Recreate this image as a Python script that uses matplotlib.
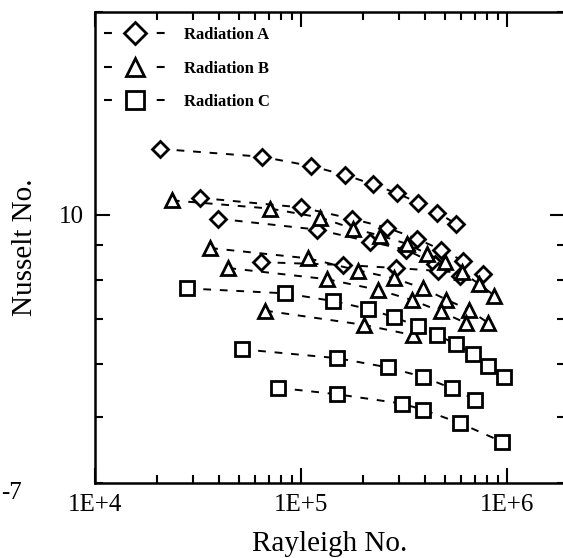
import matplotlib
matplotlib.use("Agg")
import matplotlib.pyplot as plt
from matplotlib.lines import Line2D
from matplotlib.ticker import FixedLocator, NullFormatter, LogLocator

plt.rcParams['font.family'] = ['Liberation Serif', 'DejaVu Serif']

# Radiation A (diamonds)
a1_ra = [2.07e4, 6.45e4, 1.115e5, 1.64e5, 2.24e5, 2.93e5, 3.71e5, 4.59e5, 5.65e5]
a1_nu = [12.52, 12.19, 11.81, 11.45, 11.09, 10.75, 10.42, 10.07, 9.69]
a2_ra = [3.23e4, 1.0e5, 1.76e5, 2.62e5, 3.64e5, 4.78e5, 6.10e5]
a2_nu = [10.59, 10.25, 9.86, 9.56, 9.21, 8.87, 8.54]
a3_ra = [3.97e4, 1.20e5, 2.15e5, 3.23e5, 4.47e5, 5.91e5]
a3_nu = [9.86, 9.50, 9.12, 8.87, 8.45, 8.12]
a4_ra = [6.4e4, 1.6e5, 2.9e5, 4.6e5, 7.62e5]
a4_nu = [8.50, 8.42, 8.33, 8.25, 8.15]

# Radiation B (triangles)
b1_ra = [2.36e4, 7.07e4, 1.24e5, 1.79e5, 2.42e5, 3.26e5, 4.08e5, 5.0e5, 6.03e5, 7.31e5, 8.68e5]
b1_nu = [10.50, 10.21, 9.90, 9.53, 9.31, 9.05, 8.75, 8.50, 8.21, 7.89, 7.58]
b2_ra = [3.62e4, 1.085e5, 1.90e5, 2.84e5, 3.92e5, 5.06e5, 6.53e5, 8.12e5]
b2_nu = [8.92, 8.61, 8.26, 8.04, 7.77, 7.48, 7.22, 6.90]
b3_ra = [4.44e4, 1.33e5, 2.37e5, 3.45e5, 4.76e5, 6.32e5]
b3_nu = [8.33, 8.02, 7.73, 7.47, 7.18, 6.90]
b4_ra = [6.69e4, 2.01e5, 3.51e5]
b4_nu = [7.20, 6.86, 6.62]

# Radiation C (squares)
c1_ra = [2.79e4, 8.36e4, 1.435e5, 2.12e5, 2.83e5, 3.68e5, 4.57e5, 5.65e5, 6.84e5, 8.12e5, 9.67e5]
c1_nu = [7.77, 7.64, 7.44, 7.24, 7.04, 6.83, 6.63, 6.42, 6.20, 5.96, 5.73]
c2_ra = [5.15e4, 1.50e5, 2.64e5, 3.92e5, 5.39e5, 7.0e5]
c2_nu = [6.31, 6.12, 5.93, 5.74, 5.52, 5.31]
c3_ra = [7.76e4, 1.49e5, 3.08e5, 3.92e5, 5.91e5, 9.43e5]
c3_nu = [5.53, 5.41, 5.24, 5.13, 4.90, 4.60]

groups = [
    ('D', 8.5, [(a1_ra, a1_nu), (a2_ra, a2_nu), (a3_ra, a3_nu), (a4_ra, a4_nu)]),
    ('^', 10, [(b1_ra, b1_nu), (b2_ra, b2_nu), (b3_ra, b3_nu), (b4_ra, b4_nu)]),
    ('s', 10, [(c1_ra, c1_nu), (c2_ra, c2_nu), (c3_ra, c3_nu)]),
]
labels = ['Radiation A', 'Radiation B', 'Radiation C']

fig = plt.figure(figsize=(5.63, 5.58), dpi=100)
ax = fig.add_axes([95 / 563, 1 - 482.5 / 558, 470 / 563, 470.5 / 558])

for marker, ms, series in groups:
    for ra, nu in series:
        ax.plot(ra, nu, color='k', lw=1.4, ls=(0, (4, 4.5)), marker=marker, ms=ms,
                mfc='white', mec='k', mew=2)

ax.set_xscale('log')
ax.set_yscale('log')
ax.set_xlim(1e4, 1.91e6)
ax.set_ylim(4, 20)

ax.xaxis.set_major_locator(FixedLocator([1e4, 1e5, 1e6]))
ax.set_xticklabels(['1E+4', '1E+5', '1E+6'])
ax.xaxis.set_minor_locator(LogLocator(base=10, subs=range(2, 10)))
ax.xaxis.set_minor_formatter(NullFormatter())
ax.yaxis.set_major_locator(FixedLocator([10]))
ax.set_yticklabels(['10'])
ax.yaxis.set_minor_locator(LogLocator(base=10, subs=range(2, 10)))
ax.yaxis.set_minor_formatter(NullFormatter())

ax.tick_params(which='both', direction='in', top=True, right=True, width=1.5, labelsize=18)
ax.tick_params(which='major', length=11, pad=8)
ax.tick_params(which='minor', length=6)
for s in ax.spines.values():
    s.set_linewidth(1.8)

ax.set_xlabel('Rayleigh No.', fontsize=21, labelpad=11)
ax.set_ylabel('Nusselt No.', fontsize=21, labelpad=15)

handles = [Line2D([0], [0], color='k', lw=1.5, ls=(0, (3.8, 21.5)), marker=m, ms=ms + 3,
                  mfc='white', mec='k', mew=2) for m, ms, _ in groups]
ax.legend(handles, labels, loc='upper left', bbox_to_anchor=(0.02, 0.968), frameon=False,
          borderpad=0, borderaxespad=0, handlelength=3.7, handletextpad=1.08,
          labelspacing=1.05, prop={'family': 'Liberation Serif', 'weight': 'bold', 'size': 12})

fig.text(1 / 563, 1 - 493 / 558, '-7', ha='left', va='center', fontsize=18)

fig.savefig('out.png', dpi=100)
